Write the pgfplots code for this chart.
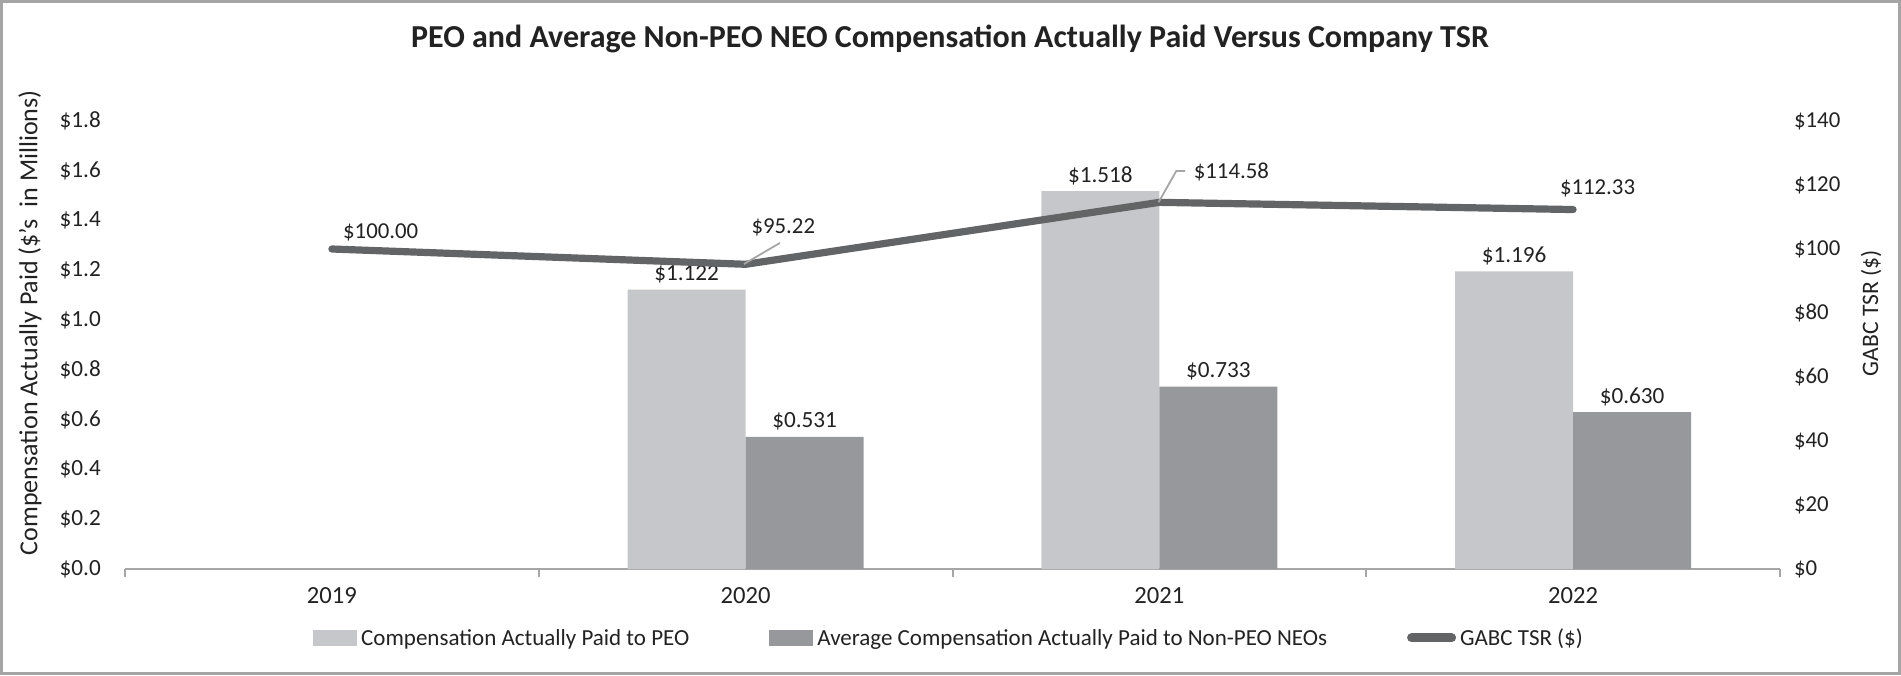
\documentclass[border=0pt]{standalone}
\usepackage{fontspec}
\setmainfont{Carlito}
\usepackage{pgfplots}
\pgfplotsset{compat=1.18}
\definecolor{peo}{HTML}{C6C7CA}
\definecolor{neo}{HTML}{97989B}
\definecolor{tsr}{HTML}{636466}
\definecolor{axgray}{HTML}{A6A6A6}
\definecolor{txt}{HTML}{222222}
\definecolor{framegray}{HTML}{A5A5A5}
\begin{document}
\begin{tikzpicture}[font=\fontsize{11.5}{13.5}\selectfont, text=txt]
\path[use as bounding box] (-62.5pt,-53pt) rectangle (888pt,284.5pt);
\draw[framegray, line width=1.5pt] (-61.75pt,-52.25pt) rectangle (887.25pt,283.75pt);
\begin{axis}[
  at={(0,0)}, anchor=south west, scale only axis,
  width=827.5pt, height=224pt,
  xmin=-0.5, xmax=3.5, ymin=0, ymax=1.8,
  /pgf/number format/assume math mode=true,
  xtick={0,1,2,3}, xticklabels={2019,2020,2021,2022},
  minor xtick={-0.5,0.5,1.5,2.5,3.5},
  major x tick style={draw=none},
  minor x tick style={axgray, line width=1pt},
  minor tick length=4pt,
  tick align=outside,
  axis x line*=bottom, axis y line*=left,
  x axis line style={axgray, line width=1pt, -},
  y axis line style={draw=none},
  ytick={0,0.2,0.4,0.6,0.8,1.0,1.2,1.4,1.6,1.8},
  major y tick style={draw=none},
  yticklabel={\$\pgfmathprintnumber[fixed,fixed zerofill,precision=1]{\tick}},
  yticklabel style={font=\fontsize{11.6}{14}\selectfont, xshift=-4.3pt},
  xticklabel style={font=\fontsize{12.3}{14}\selectfont, yshift=-1.5pt},
  ylabel={Compensation Actually Paid (\$'s\ \ in Millions)},
  every axis y label/.style={at={(axis description cs:0,0.55)}, xshift=-47.5pt, rotate=90, anchor=center, font=\fontsize{13}{15}\selectfont},
  title={\textbf{PEO and Average Non-PEO NEO Compensation Actually Paid Versus Company TSR}},
  every axis title/.style={at={(axis description cs:0.4985,1)}, anchor=center, yshift=41pt, font=\fontsize{16}{19}\selectfont},
  legend columns=3,
  legend style={draw=none, fill=none, at={(0.4985,-0.156)}, anchor=center, font=\fontsize{11.5}{13.5}\selectfont,
    /tikz/every even column/.append style={column sep=38pt}, text=txt},
  nodes near coords={\$\pgfmathprintnumber[fixed,fixed zerofill,precision=3]{\pgfplotspointmeta}},
  every node near coord/.append style={font=\fontsize{11.6}{14}\selectfont, text=txt, inner sep=3pt},
]
\addplot[ybar, bar width=0.285, bar shift=0pt, fill=peo, draw=none,
  legend image code/.code={\fill[peo] (0pt,-3.5pt) rectangle (22pt,4.5pt);}]
  coordinates {(0.8575,1.122) (1.8575,1.518) (2.8575,1.196)};
\addlegendentry{Compensation Actually Paid to PEO}
\addplot[ybar, bar width=0.285, bar shift=0pt, fill=neo, draw=none,
  legend image code/.code={\fill[neo] (0pt,-3.5pt) rectangle (22pt,4.5pt);}]
  coordinates {(1.1425,0.531) (2.1425,0.733) (3.1425,0.630)};
\addlegendentry{Average Compensation Actually Paid to Non-PEO NEOs}
\addlegendimage{legend image code/.code={\draw[tsr, line width=4.5pt, line cap=round] (2pt,0.5pt) -- (22pt,0.5pt);}}
\addlegendentry{GABC TSR (\$)}
\end{axis}
\begin{axis}[
  at={(0,0)}, anchor=south west, scale only axis,
  width=827.5pt, height=224pt,
  xmin=-0.5, xmax=3.5, ymin=0, ymax=140,
  /pgf/number format/assume math mode=true,
  axis x line=none, axis y line*=right,
  y axis line style={draw=none},
  ytick={0,20,40,60,80,100,120,140},
  major y tick style={draw=none},
  yticklabel={\$\pgfmathprintnumber{\tick}},
  yticklabel style={font=\fontsize{11.4}{14}\selectfont, xshift=3.5pt},
  ylabel={GABC TSR (\$)},
  every axis y label/.style={at={(axis description cs:1,0.571)}, xshift=45.5pt, rotate=90, anchor=center, font=\fontsize{11.8}{14}\selectfont},
]
\addplot[tsr, line width=3.6pt, line cap=round, line join=round]
  coordinates {(0,100.00) (1,95.22) (2,114.58) (3,112.33)};
\draw[axgray, line width=0.9pt] (axis cs:0.996,95.3) -- (axis cs:1.083,101.9);
\draw[axgray, line width=0.9pt] (axis cs:1.998,114.6) -- (axis cs:2.041,124.4) -- (axis cs:2.062,124.4);
\node[font=\fontsize{11.4}{14}\selectfont] at (axis cs:0.118,105.3) {\$100.00};
\node[font=\fontsize{11.4}{14}\selectfont] at (axis cs:1.091,106.9) {\$95.22};
\node[font=\fontsize{11.4}{14}\selectfont] at (axis cs:2.174,124.1) {\$114.58};
\node[font=\fontsize{11.4}{14}\selectfont] at (axis cs:3.059,119.1) {\$112.33};
\end{axis}
\end{tikzpicture}
\end{document}
